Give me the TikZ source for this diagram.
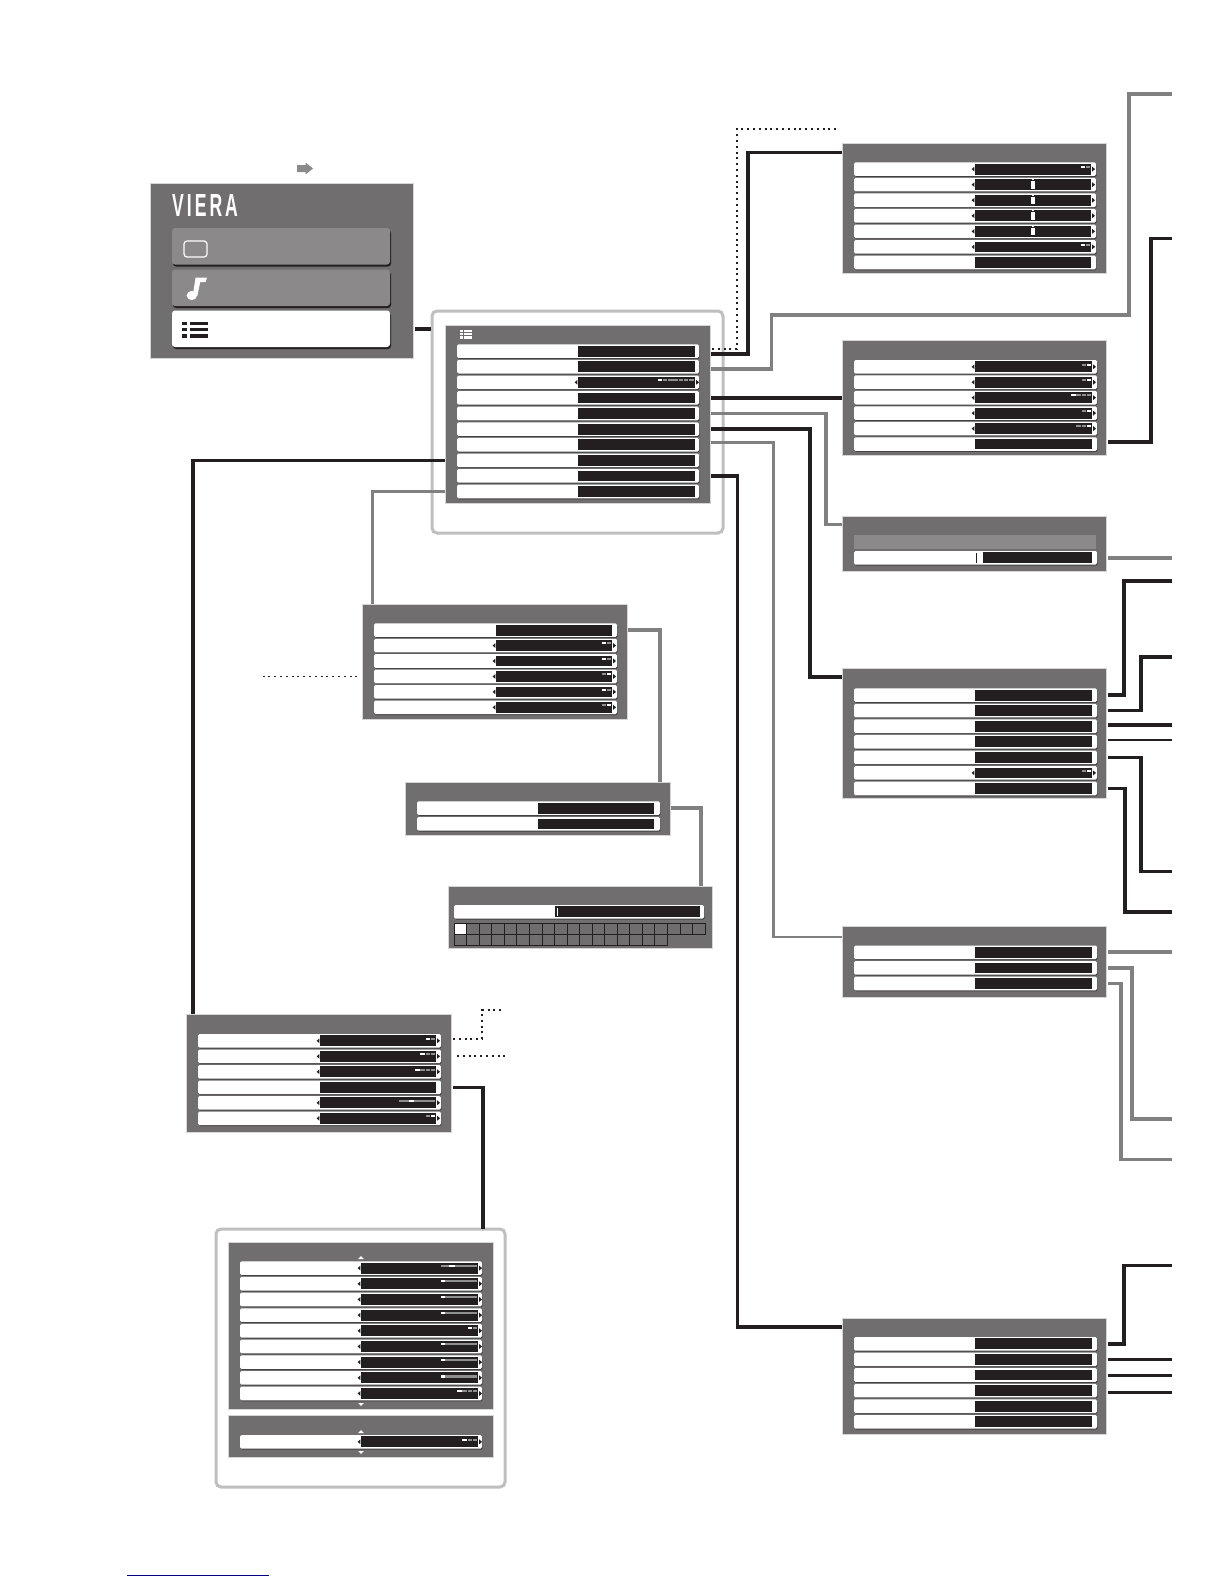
\documentclass[tikz,border=0pt]{standalone}
\usepackage{fontspec}
\setmainfont{Liberation Sans}
\usetikzlibrary{shadows}
\definecolor{panelgray}{HTML}{706E6F}
\definecolor{paneledge}{HTML}{D6D6D6}
\definecolor{btngray}{HTML}{8B898A}
\definecolor{inkblack}{HTML}{231F20}
\definecolor{wiregray}{HTML}{808080}
\definecolor{framegray}{HTML}{BFBFBF}
\definecolor{pillgray}{HTML}{8F8F8F}
\definecolor{iconarrow}{HTML}{8A8A8A}
\definecolor{footblue}{HTML}{000080}
\tikzset{
  panelbox/.style={fill=panelgray,draw=paneledge,line width=.7pt,inner sep=0,outer sep=0,anchor=north west},
  rowbox/.style={fill=white,rounded corners=1.5pt,inner sep=0,outer sep=0,anchor=north west,
    general shadow={fill=inkblack!85,shadow xshift=.7pt,shadow yshift=-1pt}},
  blackbox/.style={fill=inkblack,inner sep=0,outer sep=0,anchor=north west},
  menubtn/.style={rounded corners=3pt,inner sep=0,outer sep=0,anchor=north west,
    general shadow={fill=inkblack,shadow xshift=1pt,shadow yshift=-2pt}},
  framebox/.style={draw=framegray,line width=3pt,rounded corners=5pt,inner sep=0,outer sep=0,anchor=north west},
  blk/.style={draw=inkblack,line width=3.6pt},
  blkthin/.style={draw=inkblack,line width=2.6pt},
  gry/.style={draw=wiregray,line width=3.3pt},
  dots/.style={draw=inkblack,line width=2pt,dash pattern=on 2pt off 3.8pt},
}
\newcommand{\mkpanel}[5]{\node[panelbox,minimum width={#4-#2},minimum height={#5-#3}] (#1) at (#2,#3) {};}
\newcommand{\setcols}[4]{\def\rA{#1}\def\rB{#2}\def\rC{#3}\def\rD{#4}}
\newcommand{\mkrows}[4]{%
  \foreach \i in {1,...,#4} {
    \pgfmathsetmacro{\yy}{#2+(\i-1)*#3}
    \node[rowbox,minimum width={\rD-\rA},minimum height=13.6] (#1-\i) at (\rA,\yy) {};
    \node[blackbox,minimum width={\rC-\rB},minimum height=10.8] (#1-\i-b) at (\rB,\yy+1.4) {};
  }}
\newcommand{\mkarrows}[2]{%
  \foreach \i in {#2} {
    \fill[inkblack] ([xshift=-.6pt]#1-\i-b.west) ++(0,-2.4) -- ++(0,4.8) -- ++(-2.8,-2.4) -- cycle;
    \fill[inkblack] ([xshift=1.2pt]#1-\i-b.east) ++(0,-2.4) -- ++(0,4.8) -- ++(2.8,-2.4) -- cycle;
  }}
\newcommand{\seg}[5][2]{\fill[#5] ([shift={(#3,2.1)}]#2-b.north east) rectangle ([shift={(#4,2.1+#1)}]#2-b.north east);}
\newcommand{\pl}[3]{%
  \foreach \j in {1,...,#2} {
    \pgfmathsetmacro{\xb}{-1-(#2-\j)*5.1}
    \pgfmathsetmacro{\xa}{\xb-4.4}
    \ifnum\j=#3\relax\seg{#1}{\xa}{\xb}{white}\else\seg{#1}{\xa}{\xb}{pillgray}\fi
  }}
\newcommand{\sld}[3]{\seg{#1}{-36.8}{-1}{pillgray}\seg{#1}{#2}{#3}{white}}
\newcommand{\csl}[1]{%
  \fill[white] ([shift={(-2,-3.5)}]#1-b.center) rectangle ([shift={(2,3.9)}]#1-b.center);
  \fill[white] ([shift={(-.9,-5.4)}]#1-b.center) rectangle ([shift={(.9,-4.4)}]#1-b.center);}
\newcommand{\triup}[2]{\fill[white] (#1,#2) -- ++(2.8,3) -- ++(-5.6,0) -- cycle;}
\newcommand{\tridn}[2]{\fill[white] (#1,#2) -- ++(2.8,-3) -- ++(-5.6,0) -- cycle;}
\begin{document}
\begin{tikzpicture}[x=1pt,y=-1pt]
\useasboundingbox[fill=white] (0,0) rectangle (1224,1584);

% frames
\node[framebox,minimum width=291pt,minimum height=222pt] (mf) at (432,311) {};
\node[framebox,minimum width=289pt,minimum height=258pt] (ff) at (216,1229) {};

% small gray arrow over the start menu
\fill[iconarrow] (297,165) -- (305.5,165) -- (305.5,162.5) -- (313,168.5) -- (305.5,174.5) -- (305.5,172) -- (297,172) -- cycle;

% start menu
\mkpanel{v}{150}{183}{413}{358}
\node[font=\bfseries\fontsize{32}{32}\selectfont\addfontfeature{LetterSpace=17},text=white,inner sep=0,anchor=west] (logo) at (172,205) {\scalebox{.55}[1]{VIERA}};
\node[menubtn,fill=btngray,minimum width=218pt,minimum height=36.5pt] (vb1) at (172,228) {};
\node[menubtn,fill=btngray,minimum width=218pt,minimum height=36.5pt] (vb2) at (172,269.5) {};
\node[menubtn,fill=white,minimum width=218pt,minimum height=36.5pt] (vb3) at (172,310.5) {};
\draw[white,line width=1.2pt,fill=btngray,rounded corners=3pt] (184,241) rectangle (207,257);
\fill[white] (191.8,295.5) ellipse (5.2 and 4.6);
\fill[white] (192.8,295) -- (195.6,277.5) -- (207,277.5) -- (205.5,282) -- (200.3,282) -- (197.3,296) -- cycle;
\foreach \yy in {322,328,334.3} {
  \fill[inkblack] (182,\yy) rectangle (187,\yy+3.4);
  \fill[inkblack] (190,\yy) rectangle (208,\yy+3.4);
}

% Menu panel
\mkpanel{m}{445}{325}{710}{503}
\foreach \yy in {330,333.2,336.3} {
  \fill[white] (460,\yy) rectangle (463,\yy+2.2);
  \fill[white] (464.2,\yy) rectangle (472,\yy+2.2);
}
\setcols{457}{578}{695}{699}
\mkrows{m}{344.3}{15.6}{10}
\mkarrows{m}{3}
\seg{m-3}{-37}{-33}{white}
\seg{m-3}{-32}{-28}{pillgray}
\seg{m-3}{-27}{-17.3}{pillgray}
\seg{m-3}{-16}{-11.7}{pillgray}
\seg{m-3}{-11}{-6.7}{pillgray}
\seg{m-3}{-5.7}{-1}{pillgray}

% panel a
\mkpanel{pa}{842}{143}{1106}{273}
\setcols{854}{975}{1091}{1096}
\mkrows{pa}{162.3}{15.56}{7}
\mkarrows{pa}{1,2,3,4,5,6}
\pl{pa-1}{2}{1}
\csl{pa-2}\csl{pa-3}\csl{pa-4}\csl{pa-5}
\pl{pa-6}{2}{1}

% panel b
\mkpanel{pb}{842}{340}{1106}{455}
\setcols{854}{975}{1092}{1097}
\mkrows{pb}{360}{15.45}{6}
\mkarrows{pb}{1,2,3,4,5}
\pl{pb-1}{2}{2}
\pl{pb-2}{2}{2}
\pl{pb-3}{4}{1}
\pl{pb-4}{2}{2}
\pl{pb-5}{3}{3}

% panel c
\mkpanel{pc}{842}{516}{1106}{571}
\node[fill=btngray,inner sep=0,outer sep=0,anchor=north west,minimum width=242pt,minimum height=14pt] (pc-g) at (854,535) {};
\setcols{854}{983}{1092}{1097}
\mkrows{pc}{551}{15.5}{1}
\fill[inkblack] (975.5,552.5) rectangle (977.2,563);

% panel d
\mkpanel{pd}{842}{668}{1106}{798}
\setcols{854}{975}{1092}{1097}
\mkrows{pd}{688.3}{15.56}{7}
\mkarrows{pd}{6}
\pl{pd-6}{2}{2}

% panel e
\mkpanel{pe}{842}{926}{1106}{997}
\mkrows{pe}{945.5}{15.6}{3}

% panel f
\mkpanel{pf}{842}{1318}{1106}{1434}
\mkrows{pf}{1337}{15.6}{6}

% setup panel s
\mkpanel{s}{362}{604}{627}{719}
\setcols{374}{496}{612}{617}
\mkrows{s}{623.3}{15.45}{6}
\mkarrows{s}{2,3,4,5,6}
\pl{s-2}{2}{1}
\pl{s-3}{2}{1}
\pl{s-4}{2}{2}
\pl{s-5}{2}{1}
\pl{s-6}{2}{2}

% panel k
\mkpanel{k}{405}{782}{670}{835}
\setcols{417}{538}{654}{660}
\mkrows{k}{801.3}{15.8}{2}

% panel t with character grid
\mkpanel{t}{448}{886}{712}{948}
\setcols{454}{555}{700}{704}
\mkrows{t}{905}{15.5}{1}
\fill[white] (556.5,907.5) rectangle (557.7,916);
\fill[white] (455,923.6) rectangle (467,934);
\foreach \i in {0,...,19} {
  \draw[inkblack,line width=.7pt] (454+\i*12.55,923.2) rectangle (454+\i*12.55+12.55,934.3);
}
\foreach \i in {0,...,16} {
  \draw[inkblack,line width=.7pt] (454+\i*12.55,934.3) rectangle (454+\i*12.55+12.55,945.6);
}

% panel y
\mkpanel{y}{186}{1014}{451}{1132}
\setcols{198}{320}{436}{441}
\mkrows{y}{1034}{15.5}{6}
\mkarrows{y}{1,2,3,5,6}
\pl{y-1}{2}{1}
\pl{y-2}{3}{1}
\pl{y-3}{4}{1}
\sld{y-5}{-27}{-22}
\pl{y-6}{2}{2}

% panel f1 (picture list)
\mkpanel{fa}{228}{1242}{493}{1409}
\setcols{240}{361}{478}{482}
\mkrows{fa}{1261.3}{15.67}{9}
\mkarrows{fa}{1,2,3,4,5,6,7,8,9}
\sld{fa-1}{-28.7}{-23.3}
\sld{fa-2}{-36.8}{-32.8}
\sld{fa-3}{-36.8}{-32.8}
\sld{fa-4}{-36.8}{-32.8}
\pl{fa-5}{2}{1}
\sld{fa-6}{-36.8}{-32.8}
\sld{fa-7}{-36.8}{-32.8}
\seg[3.3]{fa-8}{-36.8}{-1}{pillgray}
\seg[3.3]{fa-8}{-36.8}{-32.8}{white}
\pl{fa-9}{4}{1}
\triup{361}{1256}
\tridn{361}{1406}

\mkpanel{fb}{228}{1415}{493}{1457}
\mkrows{fb}{1435}{15.6}{1}
\mkarrows{fb}{1}
\pl{fb-1}{3}{1}
\triup{361}{1430}
\tridn{361}{1454}

% free ends of connectors
\coordinate (e-a0) at (838,129);
\coordinate (e-top) at (1172,94);
\coordinate (e-b) at (1172,238.5);
\coordinate (e-c) at (1172,558);
\coordinate (e-d1) at (1172,581);
\coordinate (e-d2) at (1172,657);
\coordinate (e-d3) at (1172,725);
\coordinate (e-d4) at (1172,740);
\coordinate (e-d5) at (1172,871.5);
\coordinate (e-d7) at (1172,912);
\coordinate (e-e1) at (1172,952);
\coordinate (e-e2) at (1172,1119);
\coordinate (e-e3) at (1172,1159.5);
\coordinate (e-f1) at (1172,1265.5);
\coordinate (e-f2) at (1172,1359.5);
\coordinate (e-f3) at (1172,1375.6);
\coordinate (e-f4) at (1172,1392);
\coordinate (e-s) at (262.6,676.5);
\coordinate (e-y1) at (502,1010);
\coordinate (e-y2) at (505,1056.3);

% connectors
\draw[blk] ([xshift=2pt]v.east |- vb3) -- ([xshift=-1.5pt]mf.west |- vb3);
\draw[dots] ([shift={(13,-2.1)}]m-1.east) -| (737,129) -- (e-a0);
\draw[blk] ([shift={(12,2.8)}]m-1.east) -| (748,152.5) -- ([yshift=-9.5pt]pa.north west);
\draw[gry] ([shift={(12,2.2)}]m-2.east) -| (771.6,315) -| (1129,94) -- (e-top);
\draw[blk] ([xshift=1pt]m.east |- m-4) -- (pb.west |- m-4);
\draw[gry] ([xshift=1pt]m.east |- m-5) -| (826,524.5) -- ([yshift=-8.5pt]pc.north west);
\draw[blk] ([xshift=1pt]m.east |- m-6) -| (810,677) -- ([yshift=-9pt]pd.north west);
\draw[gry,line width=2.8pt] ([shift={(12,-2)}]m-7.east) -| (773.6,937) -- ([yshift=-11pt]pe.north west);
\draw[blk] ([xshift=1pt]m.east |- m-9) -| (737.5,1327) -- ([yshift=-9pt]pf.north west);
\draw[blk] (m.west |- m-8) -| ([xshift=7pt]y.north west);
\draw[gry] (m.west |- m-10) -| ([xshift=10.7pt]s.north west);
\draw[gry] ([xshift=1pt]s.east |- s-1) -| ([xshift=-10pt]k.north east);
\draw[gry] ([xshift=1pt]k.east |- k-1) -| ([xshift=-11pt]t.north east);
\draw[dots,line width=1.6pt] (e-s) -- ([xshift=-3pt]s.west |- e-s);
\draw[dots] ([shift={(2,-1.6)}]y.east |- y-1) -| (482,1010) -- (e-y1);
\draw[dots] ([xshift=6pt]y.east |- y-2) -- (e-y2);
\draw[blk] ([xshift=2pt]y.east |- y-4) -| ([xshift=267pt]ff.north west);
\draw[blk] ([shift={(1.5,-2)}]pb.east |- pb-6) -| (1151,238.5) -- (e-b);
\draw[gry] ([xshift=1.5pt]pc.east |- e-c) -- (e-c);
\draw[blk] ([xshift=1.5pt]pd.east |- pd-1) -| (1124,581) -- (e-d1);
\draw[blk] ([xshift=1.5pt]pd.east |- pd-2) -| (1141,657) -- (e-d2);
\draw[blk] ([xshift=1.5pt]pd.east |- e-d3) -- (e-d3);
\draw[blkthin] ([xshift=1.5pt]pd.east |- e-d4) -- (e-d4);
\draw[blk] ([xshift=1.5pt]pd.east |- pd-5) -| (1141,871.5) -- (e-d5);
\draw[blk] ([xshift=1.5pt]pd.east |- pd-7) -| (1125,912) -- (e-d7);
\draw[gry] ([xshift=1.5pt]pe.east |- e-e1) -- (e-e1);
\draw[gry] ([xshift=1.5pt]pe.east |- pe-2) -| (1132,1119) -- (e-e2);
\draw[gry] ([xshift=1.5pt]pe.east |- pe-3) -| (1121,1159.5) -- (e-e3);
\draw[blk] ([xshift=1.5pt]pf.east |- pf-1) -| (1124,1265.5) -- (e-f1);
\draw[blkthin,line width=3pt] ([xshift=1.5pt]pf.east |- e-f2) -- (e-f2);
\draw[blkthin,line width=3pt] ([xshift=1.5pt]pf.east |- e-f3) -- (e-f3);
\draw[blkthin,line width=3pt] ([xshift=1.5pt]pf.east |- e-f4) -- (e-f4);

% footer rule
\coordinate (foot-l) at (127,1575);
\coordinate (foot-r) at (269,1575);
\draw[footblue,line width=1pt] (foot-l) -- (foot-r);
\end{tikzpicture}
\end{document}
